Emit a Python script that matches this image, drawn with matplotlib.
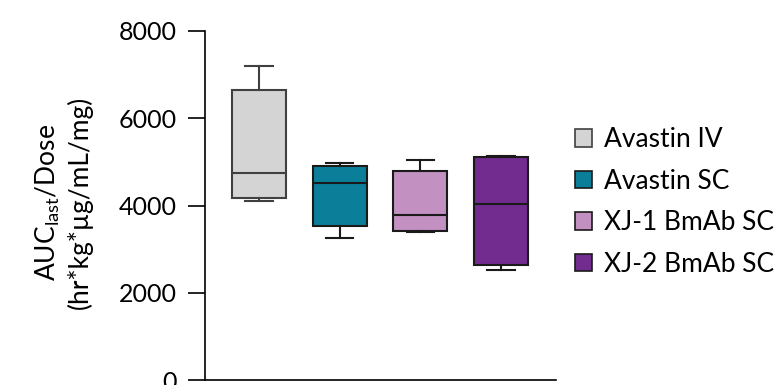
import matplotlib
matplotlib.use("Agg")
import matplotlib.pyplot as plt
from matplotlib.patches import Patch

plt.rcParams["font.family"] = ["Lato", "DejaVu Sans"]
plt.rcParams["mathtext.default"] = "regular"

groups = ["Avastin IV", "Avastin SC", "XJ-1 BmAb SC", "XJ-2 BmAb SC"]
colors = ["#d4d4d4", "#0b7f99", "#c291c2", "#722b8f"]
edge_colors = ["#404040", "#1a1a1a", "#1a1a1a", "#1a1a1a"]

# min / Q1 / median / Q3 / max of AUC_last/Dose per group
whisker_low = [4100, 3260, 3400, 2520]
q1 = [4180, 3540, 3410, 2650]
median = [4750, 4510, 3780, 4040]
q3 = [6650, 4900, 4800, 5120]
whisker_high = [7200, 4980, 5050, 5140]

yticks = [0, 2000, 4000, 6000, 8000]

fig = plt.figure(figsize=(7.75, 3.85), dpi=100)
ax = fig.add_axes([205 / 775, 4.7 / 385, 351 / 775, 349.5 / 385])

stats = []
for i, name in enumerate(groups):
    stats.append({
        "label": name,
        "whislo": whisker_low[i],
        "q1": q1[i],
        "med": median[i],
        "q3": q3[i],
        "whishi": whisker_high[i],
    })

positions = list(range(1, len(groups) + 1))
bp = ax.bxp(stats, positions=positions, widths=0.67, showfliers=False,
            patch_artist=True, capwidths=0.34)

for i in range(len(groups)):
    ec = edge_colors[i]
    bp["boxes"][i].set(facecolor=colors[i], edgecolor=ec, linewidth=1.5)
    bp["medians"][i].set(color=ec, linewidth=1.5)
    for j in (2 * i, 2 * i + 1):
        bp["whiskers"][j].set(color=ec, linewidth=1.5)
        bp["caps"][j].set(color=ec, linewidth=1.5)

ax.set_xlim(0.33, 4.68)
ax.set_ylim(0, 8000)
ax.set_yticks(yticks)
ax.set_xticks([])
ax.spines["top"].set_visible(False)
ax.spines["right"].set_visible(False)
ax.spines["left"].set_linewidth(1.2)
ax.spines["bottom"].set_linewidth(1.2)
ax.tick_params(axis="y", length=12, width=1.2, labelsize=18, pad=8)

ax.set_ylabel("AUC$_{last}$/Dose\n(hr*kg*µg/mL/mg)", fontsize=19, linespacing=1.25)
ax.yaxis.set_label_coords(-0.319, 0.51)

handles = [Patch(facecolor=colors[i], edgecolor=edge_colors[i], linewidth=1.2,
                 label=groups[i]) for i in range(len(groups))]
fig.legend(handles=handles, loc="center left", bbox_to_anchor=(575 / 775, 1 - 202 / 385),
           frameon=False, fontsize=19, handlelength=0.64, handleheight=0.64,
           handletextpad=0.45, labelspacing=0.63, borderpad=0, borderaxespad=0)

fig.savefig("out.png", dpi=100)
